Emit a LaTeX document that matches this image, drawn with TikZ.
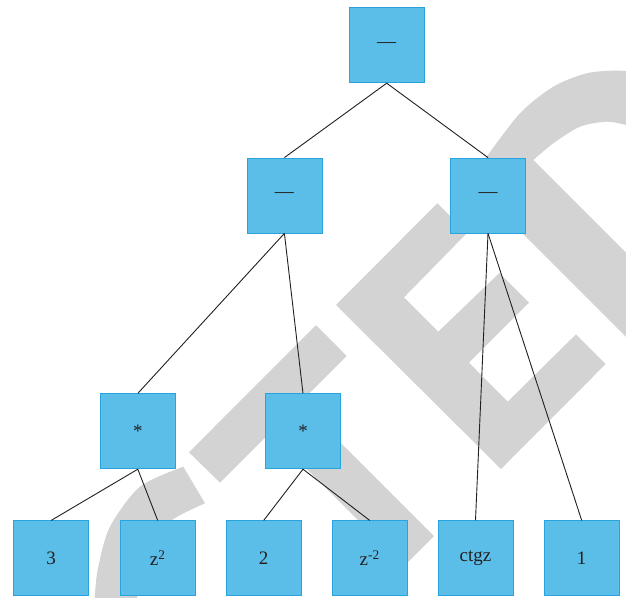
\documentclass[tikz,border=0pt]{standalone}
\usepackage{fontspec}
\setmainfont{Liberation Serif}
\definecolor{boxfill}{RGB}{91,190,232}
\definecolor{boxline}{RGB}{40,163,221}
\definecolor{wm}{RGB}{211,211,211}
\definecolor{ink}{RGB}{35,31,32}
\tikzset{
  opbox/.style={draw=boxline, fill=boxfill, line width=0.8pt, minimum width=75pt, minimum height=75pt, inner sep=0pt, font=\fontsize{19}{23}\selectfont, text=ink},
  link/.style={draw=ink, line width=0.9pt},
  wmark/.style={fill=wm}
}
\begin{document}
\begin{tikzpicture}[x=1pt,y=-1pt]
\useasboundingbox (0,0) rectangle (626,597);
\begin{scope}
\clip (0,0) rectangle (626,597);
% watermark letter S
\fill[wmark] plot[smooth] coordinates {(183.3,466.7) (140,486.7) (110,526.7) (98.3,566.7) (95,593.3) (94,620)}
  -- plot[smooth] coordinates {(136,620) (139,576) (147.4,546) (172,520) (205,503.3)} -- cycle;
% watermark letter T
\fill[wmark] (316,325) -- (346.7,356) -- (220,482.7) -- (189,452.3) -- cycle;
\fill[wmark] (290,392) -- (434,536) -- (404,566) -- (260,422) -- cycle;
% watermark letter E
\fill[wmark] (437.3,203.3) -- (467,233) -- (404,297.3) -- (438.3,331.7) -- (499.3,273) -- (529,302.7)
  -- (469,362.7) -- (507.7,401.7) -- (576,334.3) -- (605.7,364) -- (501,469) -- (336,305) -- cycle;
% watermark letter P
\fill[wmark] (466.2,177.2) -- plot[smooth] coordinates {(486.7,156.7) (520,113.3) (553.3,86.7) (586.7,73.3) (620,70.7) (660,75)}
  -- (660,140) -- plot[smooth] coordinates {(626,125) (606.7,121.7) (580,126.7) (553.3,143.3) (533.3,160)}
  -- (700,326.7) -- (700,411) -- cycle;
\end{scope}
% nodes
\node[opbox] (root) at (386.7,45.3) {\textemdash};
\node[opbox] (la) at (284.4,195.5) {\textemdash};
\node[opbox] (lb) at (488,195.5) {\textemdash};
\node[opbox] (ma) at (137.8,431.3) {*};
\node[opbox] (mb) at (303,431.3) {*};
\node[opbox] (b1) at (51.2,558.3) {3};
\node[opbox] (b2) at (157.7,558.3) {z\textsuperscript{2}};
\node[opbox] (b3) at (263.7,558.3) {2};
\node[opbox] (b4) at (369.7,558.3) {z\textsuperscript{-2}};
\node[opbox] (b5) at (475.5,558.3) {ctgz};
\node[opbox] (b6) at (581.7,558.3) {1};
% connectors
\draw[link] (root.south) -- (la.north);
\draw[link] (root.south) -- (lb.north);
\draw[link] (la.south) -- (ma.north);
\draw[link] (la.south) -- (mb.north);
\draw[link] (lb.south) -- (b5.north);
\draw[link] (lb.south) -- (b6.north);
\draw[link] (ma.south) -- (b1.north);
\draw[link] (ma.south) -- (b2.north);
\draw[link] (mb.south) -- (b3.north);
\draw[link] (mb.south) -- (b4.north);
\end{tikzpicture}
\end{document}
